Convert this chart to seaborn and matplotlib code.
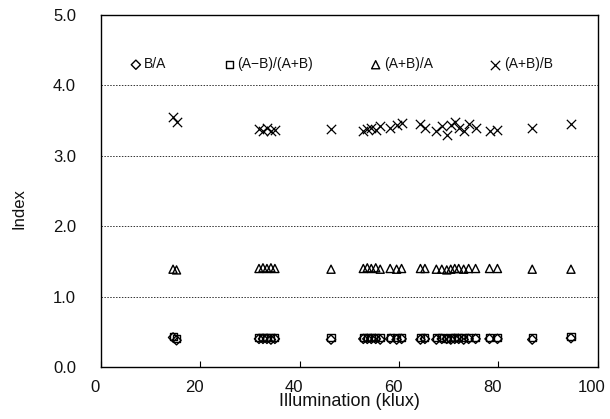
import matplotlib
matplotlib.use("Agg")
import matplotlib.pyplot as plt
import matplotlib.transforms as mtransforms
import seaborn as sns
import numpy as np
import pandas as pd

# Illumination (klux)
illum = [14.5, 15.2, 31.8, 32.6, 33.4, 34.2, 35.0, 46.3, 52.8, 53.6, 54.4, 55.3,
         56.2, 58.2, 59.5, 60.5, 64.3, 65.2, 67.5, 68.6, 69.6, 70.4, 71.2, 72.0,
         73.0, 74.0, 75.4, 78.2, 79.8, 86.8, 94.6]

b_over_a = [0.42, 0.38, 0.40, 0.40, 0.40, 0.39, 0.40, 0.39, 0.40, 0.40, 0.40, 0.40,
            0.39, 0.40, 0.39, 0.40, 0.39, 0.40, 0.39, 0.40, 0.40, 0.39, 0.40, 0.40,
            0.39, 0.40, 0.40, 0.40, 0.40, 0.39, 0.41]

amb_over_apb = [0.43, 0.41, 0.42, 0.42, 0.42, 0.42, 0.42, 0.42, 0.42, 0.42, 0.42, 0.42,
                0.42, 0.42, 0.42, 0.42, 0.42, 0.42, 0.42, 0.42, 0.41, 0.42, 0.42, 0.42,
                0.42, 0.42, 0.42, 0.42, 0.42, 0.42, 0.43]

apb_over_a = [1.39, 1.38, 1.40, 1.41, 1.40, 1.41, 1.40, 1.39, 1.40, 1.41, 1.40, 1.41,
              1.39, 1.40, 1.39, 1.40, 1.40, 1.40, 1.39, 1.39, 1.38, 1.39, 1.40, 1.40,
              1.39, 1.40, 1.40, 1.40, 1.40, 1.39, 1.39]

apb_over_b = [3.55, 3.48, 3.38, 3.36, 3.40, 3.35, 3.37, 3.38, 3.36, 3.38, 3.40, 3.37,
              3.42, 3.40, 3.44, 3.46, 3.45, 3.40, 3.36, 3.42, 3.30, 3.44, 3.48, 3.40,
              3.35, 3.45, 3.40, 3.35, 3.37, 3.40, 3.45]

series_names = ["B/A", "(A\u2212B)/(A+B)", "(A+B)/A", "(A+B)/B"]
series_vals = [b_over_a, amb_over_apb, apb_over_a, apb_over_b]
series_markers = ["D", "s", "^", "x"]

x_ticks = [0, 20, 40, 60, 80, 100]
y_ticks = [0.0, 1.0, 2.0, 3.0, 4.0, 5.0]

sns.set_theme(style="white")
plt.rcParams["font.family"] = ["Liberation Sans", "DejaVu Sans"]

fig = plt.figure(figsize=(6.10, 4.19), dpi=100)
ax = fig.add_axes([0.1656, 0.124, 0.8144, 0.840])

sizes = {"D": 22, "s": 26, "^": 34, "x": 45}
for name, vals, m in zip(series_names, series_vals, series_markers):
    df = pd.DataFrame({"Illumination": illum, "Index": vals})
    if m == "x":
        sns.scatterplot(data=df, x="Illumination", y="Index", marker=m, s=sizes[m],
                        color="black", linewidth=0.9, label=name, ax=ax, zorder=3)
    else:
        sns.scatterplot(data=df, x="Illumination", y="Index", marker=m, s=sizes[m],
                        facecolor="none", edgecolor="black", linewidth=1.0,
                        label=name, ax=ax, zorder=3)

ax.set_xlim(0, 100)
ax.set_ylim(0, 5)
ax.set_xticks(x_ticks)
ax.set_yticks(y_ticks)
ax.set_yticklabels([f"{v:.1f}" for v in y_ticks])
ax.set_xticklabels([str(v) for v in x_ticks])
ax.tick_params(axis="x", direction="in", length=4, width=0.8, color="black",
               labelsize=12, pad=9, bottom=True)
ax.tick_params(axis="y", length=0, labelsize=12, pad=18)
shift = mtransforms.ScaledTranslation(-6 / 100, 0, fig.dpi_scale_trans)
for lbl in ax.get_xticklabels():
    lbl.set_transform(lbl.get_transform() + shift)
for lbl in ax.get_xticklabels() + ax.get_yticklabels():
    lbl.set_color("#111111")

for yv in [1.0, 2.0, 3.0, 4.0]:
    ax.axhline(yv, color="#333333", linestyle=(0, (1.5, 1.5)), linewidth=0.7, zorder=1)

for sp in ax.spines.values():
    sp.set_visible(True)
    sp.set_color("black")
    sp.set_linewidth(1.0)

ax.set_xlabel("Illumination (klux)", fontsize=13, labelpad=-1, color="#111111")
ax.set_ylabel("Index", fontsize=12, color="#111111")
ax.yaxis.set_label_coords(-0.15, 0.45)

leg = ax.legend(loc="center left", bbox_to_anchor=(0.045, 0.86), ncol=4, frameon=False,
                fontsize=10, handletextpad=0.1, columnspacing=4.0, handlelength=1.0,
                borderaxespad=0)
for t in leg.get_texts():
    t.set_color("#111111")

fig.savefig("out.png", dpi=100)
